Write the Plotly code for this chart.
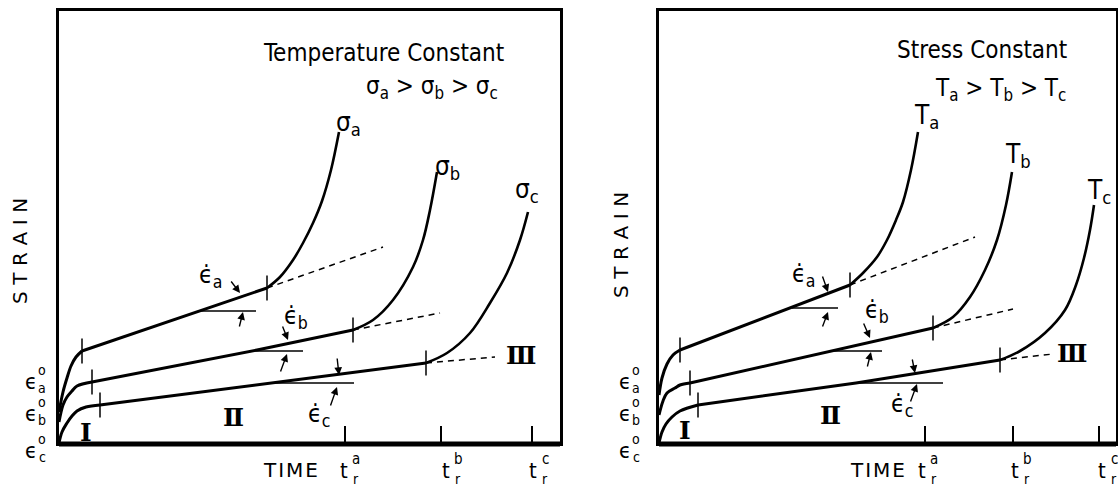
import plotly.graph_objects as go

W, H = 1118, 490
SANS = "DejaVu Sans Condensed, DejaVu Sans, sans-serif"
WIDE = "DejaVu Sans, sans-serif"
SERIF = "DejaVu Serif, Liberation Serif, serif"

# ---------------- Left panel: temperature constant, stresses a > b > c ----------------
L_time_a = [0, 4, 8, 12, 17, 23, 141, 208, 221, 234, 244, 254, 263, 272, 280]
L_strain_a = [31, 51, 65, 77, 86, 92, 132, 155, 166, 183, 200, 220, 242, 273, 311]
L_time_b = [0, 4, 8, 13, 18, 33, 198, 294, 314, 334, 354, 364, 371, 378]
L_strain_b = [21, 38, 46, 52, 57, 61, 93, 113, 123, 143, 176, 203, 233, 271]
L_time_c = [0, 3, 8, 13, 18, 27, 41, 224, 367, 388, 411, 431, 448, 461, 469]
L_strain_c = [0, 11, 20, 27, 32, 36, 38, 62, 80, 90, 110, 140, 170, 203, 231]
# stage transitions (primary->secondary, secondary->tertiary), per curve a, b, c
L_trans_time = [23, 208, 33, 294, 41, 367]
L_trans_strain = [92, 155, 61, 113, 38, 80]
# secondary-rate extrapolations (start, end) per curve
L_ext_time = [[208, 324], [294, 381], [367, 436]]
L_ext_strain = [[155, 196], [113, 130], [80, 86]]
# horizontal reference lines for the minimum creep rate angle
L_ref_time = [[141, 197], [190, 244], [215, 295]]
L_ref_strain = [132, 92, 60]
# rate-angle arrows: (tail_t, tail_s, head_t, head_s)
L_arrows = [(171, 163, 181, 150), (180, 115, 184, 131),
            (223, 118, 229, 103), (221, 70, 228, 89),
            (278, 86, 280, 68), (271, 36, 278, 56)]
L_rupture = [286, 382, 473]
L_range_t, L_range_s = 501, 432

# ---------------- Right panel: stress constant, temperatures a > b > c ----------------
R_time_a = [0, 3, 8, 14, 21, 133, 191, 204, 218, 228, 237, 244, 252, 259]
R_strain_a = [48, 65, 79, 88, 93, 136, 158, 170, 186, 203, 223, 241, 273, 311]
R_time_b = [0, 4, 8, 16, 21, 31, 173, 274, 294, 311, 326, 338, 347, 353]
R_strain_b = [28, 42, 50, 55, 58, 60, 92, 115, 126, 146, 173, 203, 238, 271]
R_time_c = [0, 3, 7, 13, 21, 39, 197, 341, 361, 386, 406, 417, 425, 431, 435]
R_strain_c = [0, 11, 19, 26, 32, 38, 60, 83, 92, 110, 133, 158, 185, 213, 238]
R_trans_time = [21, 191, 31, 274, 39, 341]
R_trans_strain = [93, 158, 60, 115, 38, 83]
R_ext_time = [[191, 316], [274, 354], [341, 394]]
R_ext_strain = [[158, 206], [115, 134], [83, 89]]
R_ref_time = [[133, 179], [173, 223], [197, 284]]
R_ref_strain = [135, 92, 60]
R_arrows = [(163, 168, 169, 151), (163, 115, 169, 131),
            (204, 121, 211, 105), (208, 75, 212, 91),
            (253, 85, 256, 70), (251, 40, 258, 59)]
R_rupture = [266, 354, 440]
R_range_t, R_range_s = 457, 432

fig = go.Figure()


def line_trace(t, s, xa, ya, shape, width=3):
    fig.add_trace(go.Scatter(x=t, y=s, mode="lines", xaxis=xa, yaxis=ya,
                             line=dict(color="black", width=width, shape=shape, smoothing=1.0),
                             hoverinfo="skip", showlegend=False))


def add_panel(xa, ya, curves, trans_t, trans_s, ext_t, ext_s, ref_t, ref_s, arrows):
    for k, (t, s) in enumerate(curves):
        i1 = t.index(trans_t[2 * k])
        i2 = t.index(trans_t[2 * k + 1])
        line_trace(t[:i1 + 1], s[:i1 + 1], xa, ya, "spline")      # primary
        line_trace(t[i1:i2 + 1], s[i1:i2 + 1], xa, ya, "linear")  # secondary
        line_trace(t[i2:], s[i2:], xa, ya, "spline", width=2.6)   # tertiary
    for t, s in zip(ext_t, ext_s):
        fig.add_trace(go.Scatter(x=t, y=s, mode="lines", xaxis=xa, yaxis=ya,
                                 line=dict(color="black", width=1.5, dash="6px,5px"),
                                 hoverinfo="skip", showlegend=False))
    for t, s in zip(ref_t, ref_s):
        fig.add_trace(go.Scatter(x=t, y=[s, s], mode="lines", xaxis=xa, yaxis=ya,
                                 line=dict(color="black", width=1.5),
                                 hoverinfo="skip", showlegend=False))
    fig.add_trace(go.Scatter(x=trans_t, y=trans_s, mode="markers", xaxis=xa, yaxis=ya,
                             marker=dict(symbol="line-ns-open", size=18, color="black",
                                         line=dict(color="black", width=1.5)),
                             hoverinfo="skip", showlegend=False))
    for (tt, ts, ht, hs) in arrows:
        fig.add_annotation(x=ht, y=hs, ax=tt, ay=ts, xref=xa, yref=ya,
                           axref=xa, ayref=ya, text="", showarrow=True,
                           arrowhead=2, arrowsize=1.1, arrowwidth=1.4, arrowcolor="black")


add_panel("x", "y",
          [(L_time_a, L_strain_a), (L_time_b, L_strain_b), (L_time_c, L_strain_c)],
          L_trans_time, L_trans_strain, L_ext_time, L_ext_strain,
          L_ref_time, L_ref_strain, L_arrows)
add_panel("x2", "y2",
          [(R_time_a, R_strain_a), (R_time_b, R_strain_b), (R_time_c, R_strain_c)],
          R_trans_time, R_trans_strain, R_ext_time, R_ext_strain,
          R_ref_time, R_ref_strain, R_arrows)


def px(x):
    return x / W


def py(y):
    return 1 - y / H


def text(s, x, y, size, font=SANS, angle=0):
    fig.add_annotation(text=s, x=px(x), y=py(y), xref="paper", yref="paper",
                       xanchor="center", yanchor="middle", showarrow=False,
                       textangle=angle, font=dict(family=font, size=size, color="black"))


top, bottom = 11, 443
axis_common = dict(showgrid=False, zeroline=False, showline=True, linecolor="black",
                   linewidth=3, mirror=True)
tick_common = dict(ticks="inside", ticklen=17, tickwidth=1.5, tickcolor="black",
                   showticklabels=False)
fig.update_layout(
    width=W, height=H, margin=dict(l=0, r=0, t=0, b=0),
    paper_bgcolor="white", plot_bgcolor="white", showlegend=False,
    xaxis=dict(domain=[px(59), px(560)], range=[0, L_range_t], tickvals=L_rupture,
               **tick_common, **axis_common),
    yaxis=dict(domain=[py(bottom), py(top)], range=[0, L_range_s], showticklabels=False,
               **axis_common),
    xaxis2=dict(domain=[px(659), px(1116)], range=[0, R_range_t], tickvals=R_rupture,
                anchor="y2", **tick_common, **axis_common),
    yaxis2=dict(domain=[py(bottom), py(top)], range=[0, R_range_s], showticklabels=False,
                anchor="x2", **axis_common),
)
# heavier time axis
for x0, x1 in [(59, 560), (659, 1116)]:
    fig.add_shape(type="line", xref="paper", yref="paper", x0=px(x0), x1=px(x1),
                  y0=py(bottom + 1), y1=py(bottom + 1), line=dict(color="black", width=5))

# ---- titles and curve labels ----
text("Temperature Constant", 384, 53, 24)
text("σ<sub>a</sub> > σ<sub>b</sub> > σ<sub>c</sub>", 432, 88, 24)
text("σ<sub>a</sub>", 348, 124, 26)
text("σ<sub>b</sub>", 447, 167, 26)
text("σ<sub>c</sub>", 527, 190, 26)
text("Stress Constant", 982, 50, 24)
text("T<sub>a</sub> > T<sub>b</sub> > T<sub>c</sub>", 1000, 90, 24)
text("T<sub>a</sub>", 926, 117, 26)
text("T<sub>b</sub>", 1018, 155, 26)
text("T<sub>c</sub>", 1099, 191, 26)

# ---- strain-rate labels ----
for s, x, y in [("a", 211, 276), ("b", 296, 317), ("c", 319, 415),
                ("a", 804, 275), ("b", 877, 311), ("c", 902, 405)]:
    text("ϵ\u0307<sub>%s</sub>" % s, x, y, 25)

# ---- creep stages ----
for s, x, y in [("Ⅰ", 86, 432), ("Ⅱ", 233, 417), ("Ⅲ", 521, 355),
                ("Ⅰ", 685, 430), ("Ⅱ", 830, 415), ("Ⅲ", 1072, 353)]:
    text("<b>%s</b>" % s, x, y, 25, font=SERIF)

# ---- axis titles ----
text("\u2004".join("STRAIN"), 20, 251, 20, font=WIDE, angle=-90)
text("\u2004".join("STRAIN"), 621, 245, 20, font=WIDE, angle=-90)
text("\u200a".join("TIME"), 290, 470, 20, font=WIDE)
text("\u200a".join("TIME"), 877, 470, 20, font=WIDE)

# ---- rupture-time labels t_r^a, t_r^b, t_r^c ----
for (x, sup) in [(344, "a"), (446, "b"), (533, "c"), (922, "a"), (1015, "b"), (1102, "c")]:
    text("t", x, 470, 22)
    text(sup, x + 12, 459, 15)
    text("r", x + 12, 479, 14)

# ---- initial strain labels ϵ_a^o, ϵ_b^o, ϵ_c^o ----
for dx in (0, 594):
    for sub, y in [("a", 381), ("b", 413), ("c", 450)]:
        text("ϵ", 31 + dx, y, 22)
        text("o", 42 + dx, y - 11, 14)
        text(sub, 42 + dx, y + 7, 14)

fig.write_html("out.html")
